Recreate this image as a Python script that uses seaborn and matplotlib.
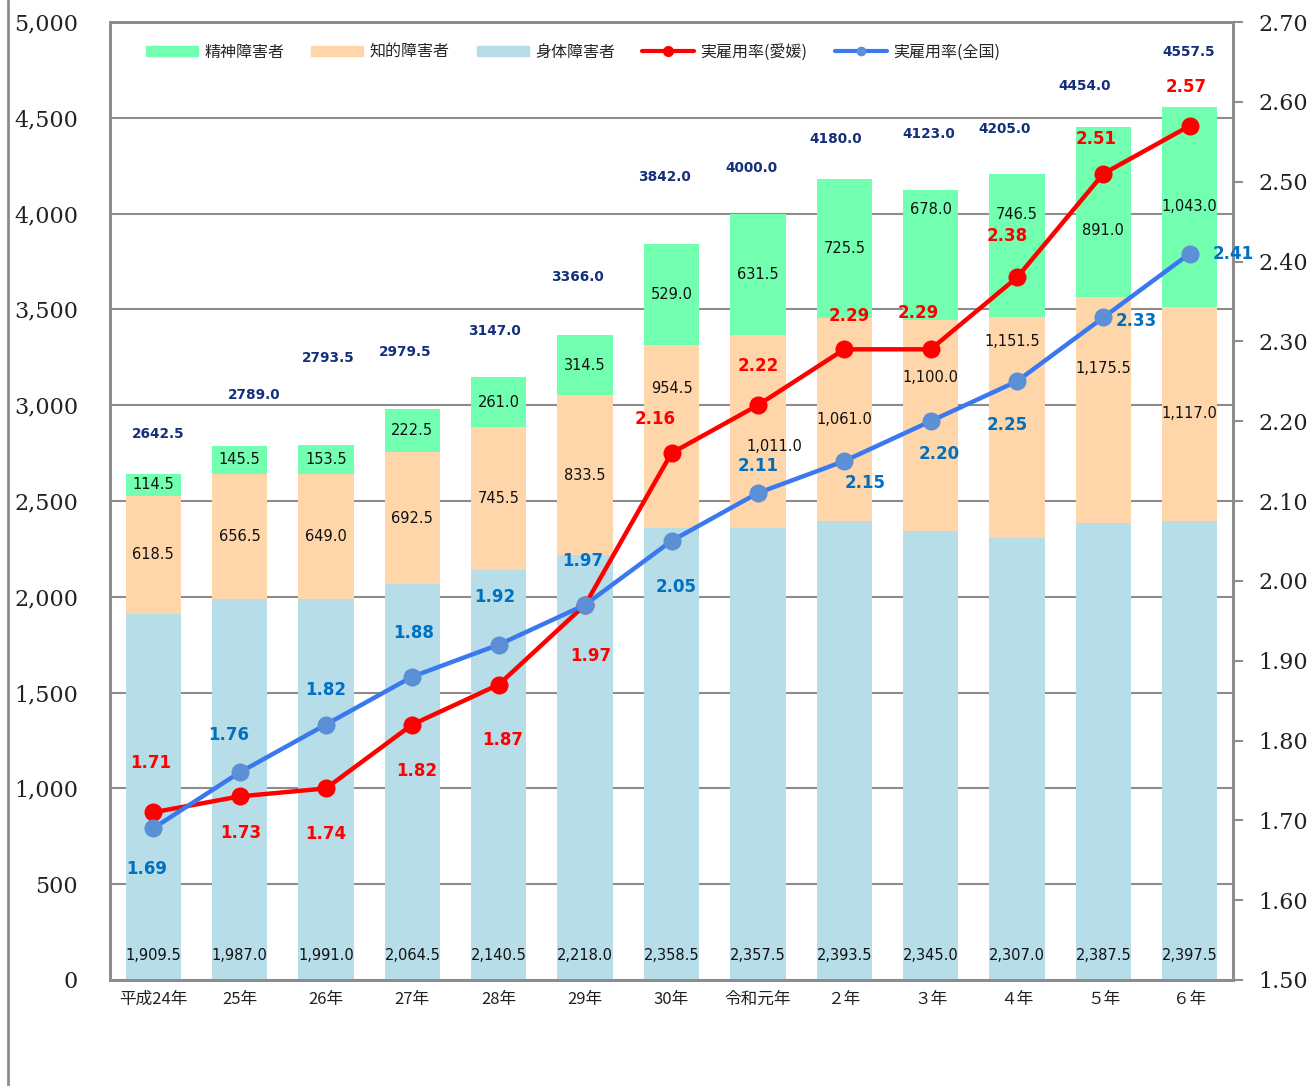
import numpy as np
import pandas as pd
import matplotlib
matplotlib.use('Agg')
import matplotlib.pyplot as plt
from matplotlib.lines import Line2D
from matplotlib.patches import Patch
import seaborn as sns

# data
years = ['平成24年', '25年', '26年', '27年', '28年', '29年', '30年',
         '令和元年', '２年', '３年', '４年', '５年', '６年']
body = [1909.5, 1987.0, 1991.0, 2064.5, 2140.5, 2218.0, 2358.5,
        2357.5, 2393.5, 2345.0, 2307.0, 2387.5, 2397.5]
intel = [618.5, 656.5, 649.0, 692.5, 745.5, 833.5, 954.5,
         1011.0, 1061.0, 1100.0, 1151.5, 1175.5, 1117.0]
mental = [114.5, 145.5, 153.5, 222.5, 261.0, 314.5, 529.0,
          631.5, 725.5, 678.0, 746.5, 891.0, 1043.0]
totals = [2642.5, 2789.0, 2793.5, 2979.5, 3147.0, 3366.0, 3842.0,
          4000.0, 4180.0, 4123.0, 4205.0, 4454.0, 4557.5]
rate_ehime = [1.71, 1.73, 1.74, 1.82, 1.87, 1.97, 2.16,
              2.22, 2.29, 2.29, 2.38, 2.51, 2.57]
rate_japan = [1.69, 1.76, 1.82, 1.88, 1.92, 1.97, 2.05,
              2.11, 2.15, 2.20, 2.25, 2.33, 2.41]

# label placement (layout only), offsets in pixels, y up
total_label_y = [2850, 3053, 3246, 3278, 3387, 3669, 4191, 4238, 4389, 4415, 4441, 4666, 4843]
total_label_dx = [5, 15, 2, -7, -4, -8, -7, -6, -9, -2, -12, -19, -1]
intel_shift = [0, 0, 0, 0, 0, 0, 254, -76, 0, 252, 452, 214, 0]
intel_dx = [0, 0, 0, 0, 0, 0, 0, 16, 0, 0, -5, 0, 0]
mental_shift = [0, 0, 0, 0, 0, 0, 0, 0, 0, 235, 161, -99, 0]
red_off = [(-3, 49), (1, -37), (0, -46), (4, -46), (4, -55), (6, -51), (-16, 34),
           (0, 39), (5, 33), (-12, 36), (-10, 41), (-7, 35), (-4, 39)]
blue_off = [(-7, -41), (-11, 37), (0, 35), (1, 44), (-4, 48), (-2, 44), (5, -46),
            (0, 27), (21, -22), (9, -33), (-10, -44), (33, -4), (43, 0)]

c_mental = '#72FFB0'
c_intel = '#FFD5AA'
c_body = '#B7DDE8'
c_red = '#FF0000'
c_blue_line = '#3A78F0'
c_blue_mark = '#5B8FD6'
c_grey = '#8C8C8C'

sns.set_theme(style='white')
plt.rcParams['font.family'] = ['DejaVu Sans', 'Noto Sans CJK JP']

df = pd.DataFrame({'year': years, 'body': body, 'intel': intel, 'mental': mental})
df['mid'] = df['body'] + df['intel']
df['top'] = df['mid'] + df['mental']

fig = plt.figure(figsize=(13.13, 10.86), dpi=100)
ax = fig.add_axes([110 / 1313, 1 - 980 / 1086, (1233 - 110) / 1313, (980 - 22) / 1086])

# stacked bars: draw cumulative heights, tallest first
for col, c in [('top', c_mental), ('mid', c_intel), ('body', c_body)]:
    sns.barplot(data=df, x='year', y=col, color=c, saturation=1, width=0.64,
                linewidth=0, ax=ax)

ax.set_xlim(-0.5, 12.5)
ax.set_ylim(0, 5000)
ax.set_yticks(np.arange(0, 5001, 500))
ax.set_yticklabels([f'{v:,}' for v in range(0, 5001, 500)], fontfamily='DejaVu Serif', fontsize=16)
ax.set_xticks(range(len(years)))
ax.set_xticklabels(years, fontfamily='Noto Sans CJK JP', fontsize=12, color='#222222')
ax.set_xlabel('')
ax.set_ylabel('')
ax.yaxis.grid(True, color=c_grey, lw=1.5)
ax.xaxis.grid(False)
ax.set_axisbelow(True)
ax.tick_params(axis='y', length=0, pad=23, colors='#222222')
ax.tick_params(axis='x', length=0, pad=8)
for s in ax.spines.values():
    s.set_color(c_grey)
    s.set_linewidth(2)

# values inside the bars
for i in range(len(years)):
    ax.text(i, 130, f'{body[i]:,.1f}', ha='center', va='center', fontsize=10.5, color='#111111')
    ax.text(i + intel_dx[i] / 86.4, body[i] + intel[i] / 2 + intel_shift[i], f'{intel[i]:,.1f}',
            ha='center', va='center', fontsize=10.5, color='#111111')
    ax.text(i, body[i] + intel[i] + mental[i] / 2 + mental_shift[i], f'{mental[i]:,.1f}',
            ha='center', va='center', fontsize=10.5, color='#111111')
    ax.text(i + total_label_dx[i] / 86.4, total_label_y[i], f'{totals[i]:.1f}',
            ha='center', va='center', fontsize=9.8, fontweight='bold', color='#14307A')

# employment rate lines on the right axis
ax2 = ax.twinx()
x = np.arange(len(years))
sns.lineplot(x=x, y=rate_ehime, ax=ax2, color=c_red, lw=3.2, marker='o', markersize=13,
             markeredgewidth=0, sort=False, legend=False)
sns.lineplot(x=x, y=rate_japan, ax=ax2, color=c_blue_line, lw=3.2, marker='o', markersize=13,
             markerfacecolor=c_blue_mark, markeredgewidth=0, sort=False, legend=False)
ax2.set_ylim(1.5, 2.7)
ax2.set_yticks(np.arange(1.5, 2.71, 0.1))
ax2.set_yticklabels([f'{v:.2f}' for v in np.arange(1.5, 2.71, 0.1)], fontfamily='DejaVu Serif', fontsize=16)
ax2.set_ylabel('')
ax2.grid(False)
ax2.tick_params(axis='y', length=7, width=1.5, color=c_grey, pad=11, labelcolor='#222222')
for s in ax2.spines.values():
    s.set_color(c_grey)
    s.set_linewidth(2)

for i in range(len(years)):
    ax2.annotate(f'{rate_ehime[i]:.2f}', (i, rate_ehime[i]), xytext=red_off[i],
                 textcoords='offset pixels', ha='center', va='center', fontsize=12,
                 fontweight='bold', color=c_red)
    ax2.annotate(f'{rate_japan[i]:.2f}', (i, rate_japan[i]), xytext=blue_off[i],
                 textcoords='offset pixels', ha='center', va='center', fontsize=12,
                 fontweight='bold', color='#0070C0')

handles = [Patch(color=c_mental), Patch(color=c_intel), Patch(color=c_body),
           Line2D([], [], color=c_red, lw=3, marker='o', markersize=7),
           Line2D([], [], color=c_blue_line, lw=3, marker='o', markersize=7, markerfacecolor=c_blue_mark,
                  markeredgewidth=0)]
labels = ['精神障害者', '知的障害者', '身体障害者', '実雇用率(愛媛)', '実雇用率(全国)']
fig.legend(handles, labels, loc='center left', bbox_to_anchor=(146 / 1313, 1 - 52 / 1086), ncol=5,
           frameon=False, borderaxespad=0, borderpad=0, handlelength=3.25, handleheight=0.55,
           handletextpad=0.4, columnspacing=1.7,
           prop={'family': ['Noto Sans CJK JP'], 'size': 11.5})

# page border line at the far left
fig.add_artist(Line2D([8 / 1313, 8 / 1313], [0, 1], color=c_grey, lw=2, transform=fig.transFigure))

fig.savefig('out.png', dpi=100)
